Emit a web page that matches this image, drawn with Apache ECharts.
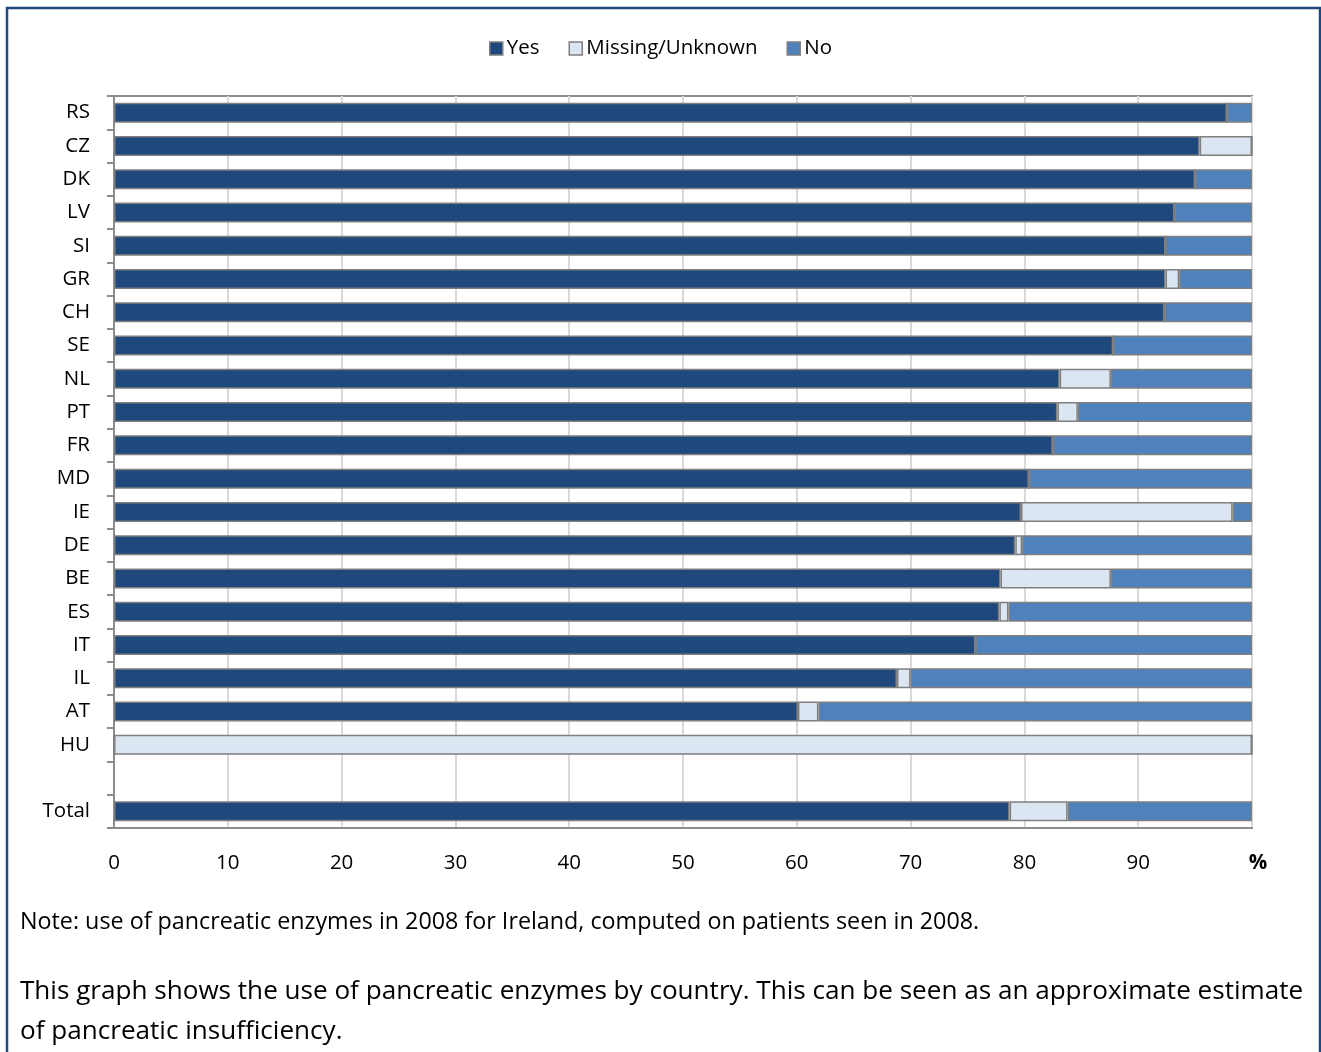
<!DOCTYPE html>
<html><head><meta charset="utf-8">
<script src="https://cdn.jsdelivr.net/npm/echarts@6/dist/echarts.min.js"></script>
<style>html,body{margin:0;padding:0;background:#fff}#c{width:1321px;height:1052px}</style>
</head><body><div id="c"></div>
<script>
const categories = ['RS','CZ','DK','LV','SI','GR','CH','SE','NL','PT','FR','MD','IE','DE','BE','ES','IT','IL','AT','HU','','Total'];
const yesValues     = [97.8,95.4,95.0,93.2,92.4,92.4,92.3,87.8,83.1,82.9,82.5,80.4,79.7,79.2,77.9,77.8,75.7,68.8,60.1,0,null,78.7];
const missingValues = [0,4.6,0,0,0,1.2,0,0,4.5,1.8,0,0,18.6,0.6,9.7,0.8,0,1.2,1.8,100,null,5.1];
const noValues      = [2.2,0,5.0,6.8,7.6,6.4,7.7,12.2,12.4,15.3,17.5,19.6,1.7,20.2,12.4,21.4,24.3,30.0,38.1,0,null,16.2];
const xTicks = [0,10,20,30,40,50,60,70,80,90,100];
const seriesNames = ['Yes','Missing/Unknown','No'];
const noteText = 'Note: use of pancreatic enzymes in 2008 for Ireland, computed on patients seen in 2008.';
const descLine1 = 'This graph shows the use of pancreatic enzymes by country. This can be seen as an approximate estimate';
const descLine2 = 'of pancreatic insufficiency.';

const FONT = '"Open Sans", Lato, sans-serif';
const colors = ['#1F497D','#DCE6F2','#4F81BD'];
const border = {borderColor:'#7F7F7F', borderWidth:1.5};
const chart = echarts.init(document.getElementById('c'), null, {renderer:'canvas'});
const mk = (name, data, i) => ({
  name, type:'bar', stack:'all', data, barWidth:20,
  itemStyle:Object.assign({color:colors[i]}, border),
  emphasis:{disabled:true}
});
chart.setOption({
  animation:false,
  textStyle:{fontFamily:FONT},
  legend:{
    top:33, left:'center', itemWidth:13, itemHeight:13, itemGap:29,
    icon:'rect',
    textStyle:{fontFamily:FONT, fontSize:20.5, color:'#000', padding:[0,0,0,-1]},
    data:seriesNames.map((n,i)=>({name:n, itemStyle:{color:colors[i], borderColor:'#7F7F7F', borderWidth:1.5}}))
  },
  grid:{left:114, right:69, top:96, bottom:224, show:true, borderColor:'#8C8C8C', borderWidth:2, containLabel:false},
  xAxis:{
    type:'value', min:0, max:100, interval:10,
    axisLine:{show:true, lineStyle:{color:'#8C8C8C', width:2}},
    axisTick:{show:false},
    splitLine:{show:true, lineStyle:{color:'#D9D9D9', width:2}},
    axisLabel:{
      margin:25, fontSize:20.5, color:'#000', fontFamily:FONT,
      formatter:v => v===100 ? '{b|%}' : String(v),
      rich:{b:{fontWeight:'bold', fontSize:20.5, fontFamily:FONT, color:'#000', padding:[0,0,0,12]}}
    }
  },
  yAxis:{
    type:'category', data:categories, inverse:true,
    axisLine:{show:true, lineStyle:{color:'#8C8C8C', width:2}},
    axisTick:{show:true, length:7, lineStyle:{color:'#8C8C8C', width:2}},
    axisLabel:{margin:24, fontSize:20.5, color:'#000', fontFamily:FONT},
    splitLine:{show:false}
  },
  series:[mk(seriesNames[0], yesValues, 0), mk(seriesNames[1], missingValues, 1), mk(seriesNames[2], noValues, 2)],
  graphic:[
    {type:'rect', shape:{x:7, y:8, width:1313, height:1080}, style:{fill:'none', stroke:'#1F497D', lineWidth:2.5}, silent:true},
    {type:'text', x:20, y:922, style:{text:noteText, fontFamily:FONT, fontSize:23.3, fill:'#000', verticalAlign:'middle'}},
    {type:'text', x:20, y:992, style:{text:descLine1, fontFamily:FONT, fontSize:26.1, fill:'#000', verticalAlign:'middle'}},
    {type:'text', x:20, y:1032, style:{text:descLine2, fontFamily:FONT, fontSize:26.1, fill:'#000', verticalAlign:'middle'}}
  ]
});
</script></body></html>
